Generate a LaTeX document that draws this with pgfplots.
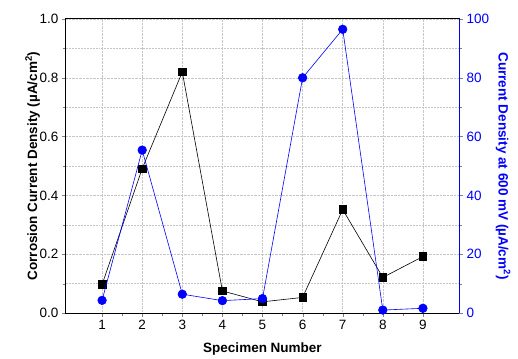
\documentclass[border=0pt]{standalone}
\usepackage{fontspec}
\setmainfont{Liberation Sans}
\usepackage{pgfplots}
\pgfplotsset{compat=1.18}
\usetikzlibrary{calc}
\definecolor{myblue}{RGB}{0,0,255}
\begin{document}
\begin{tikzpicture}
\pgfplotsset{every axis/.append style={
  scale only axis, width=393pt, height=294pt,
  xmin=0.1, xmax=9.9,
  tick align=outside,
  /pgf/number format/assume math mode=true,
  tick label style={font=\fontsize{13.5}{15}\selectfont},
  label style={font=\fontsize{13.5}{15}\selectfont\bfseries},
  axis line style={line width=1pt},
  major tick length=4pt, minor tick length=2.5pt,
}}
\begin{axis}[
  name=ax,
  ymin=0, ymax=1.0,
  xtick={1,...,9}, minor x tick num=1,
  ytick={0,0.2,...,1.0}, minor y tick num=1,
  xtick pos=lower, ytick pos=left,
  xmajorgrids, ymajorgrids, yminorgrids,
  grid style={densely dotted, gray!45, line width=0.5pt},
  minor grid style={densely dotted, gray!45, line width=0.5pt},
  yticklabel style={/pgf/number format/.cd, fixed, fixed zerofill, precision=1},
  xlabel={Specimen Number},
  ylabel={Corrosion Current Density (µA/cm\textsuperscript{2})},
  xlabel style={yshift=-6pt},
  ylabel style={yshift=-7pt},
]
\addplot[black, line width=0.6pt, mark=square*, mark size=3.8pt] coordinates {
(1,0.097) (2,0.491) (3,0.82) (4,0.075) (5,0.038) (6,0.053) (7,0.352) (8,0.121) (9,0.192)
};
\end{axis}
\begin{axis}[
  axis y line*=right, axis x line=none,
  ymin=0, ymax=100,
  ytick={0,20,...,100}, minor y tick num=1,
  y axis line style={myblue, line width=1pt},
  yticklabel style={myblue},
  ylabel={Current Density at 600 mV (µA/cm\textsuperscript{2})},
  ylabel style={myblue, rotate=180},
]
\addplot[myblue, line width=0.6pt, mark=*, mark size=4.3pt] coordinates {
(1,4.3) (2,55.4) (3,6.4) (4,4.2) (5,4.9) (6,80) (7,96.5) (8,1.0) (9,1.6)
};
\end{axis}
\pgfresetboundingbox
\path[use as bounding box] ($(ax.south west)+(-66pt,-45pt)$) rectangle ($(ax.north east)+(59pt,19pt)$);
\end{tikzpicture}
\end{document}
